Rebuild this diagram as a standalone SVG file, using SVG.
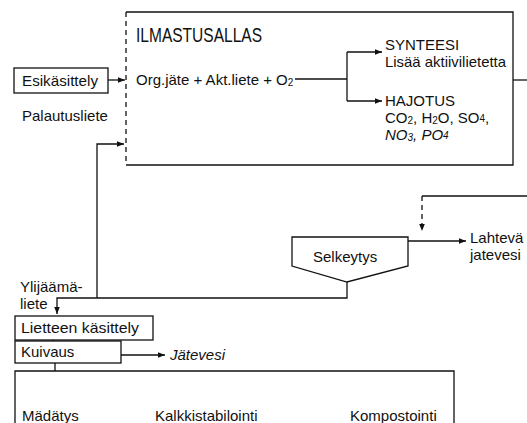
<svg xmlns="http://www.w3.org/2000/svg" width="527" height="423" viewBox="0 0 527 423">
<style>
text{font-family:"Liberation Sans",Arial,sans-serif;fill:#111;font-size:15px}
.t{font-size:21px}
.s{font-size:10px}
.box{fill:none;stroke:#111;stroke-width:1.3}
.ln{fill:none;stroke:#111;stroke-width:1.3}
.ds{fill:none;stroke:#111;stroke-width:1.3;stroke-dasharray:5 4}
</style>
<defs>
<marker id="ah" viewBox="0 0 10 10" refX="10" refY="5" markerWidth="7" markerHeight="7" orient="auto" markerUnits="userSpaceOnUse"><path d="M0,1 L10,5 L0,9 z" fill="#111"/></marker>
</defs>
<rect width="527" height="423" fill="#fff"/>
<g id="ilmastusallas">
<path class="box" d="M126,165 L513,165 L513,12 L126,12"/>
<path class="ds" d="M126,12 L126,165"/>
<text class="t" x="136" y="42" textLength="126" lengthAdjust="spacingAndGlyphs">ILMASTUSALLAS</text>
<text x="136" y="85" font-size="14">Org.jäte + Akt.liete + O<tspan class="s" dy="1">2</tspan></text>
<text x="385" y="50">SYNTEESI</text>
<text x="385" y="67" textLength="121" lengthAdjust="spacingAndGlyphs">Lisää aktiivilietetta</text>
<text x="385" y="106">HAJOTUS</text>
<text x="385" y="123">CO<tspan class="s" dy="1">2</tspan><tspan dy="-1">, H</tspan><tspan class="s" dy="1">2</tspan><tspan dy="-1">O, SO</tspan><tspan class="s" dy="-1">4</tspan><tspan dy="1">,</tspan></text>
<text x="385" y="140" font-style="italic">NO<tspan class="s" dy="1">3</tspan><tspan dy="-1">, PO</tspan><tspan class="s" dy="-1">4</tspan></text>
</g>
<g id="esikasittely">
<rect class="box" x="14" y="68" width="94" height="25"/>
<text x="22" y="86" textLength="76" lengthAdjust="spacingAndGlyphs">Esikäsittely</text>
</g>
<g id="selkeytys">
<path class="box" d="M292,237 L408,237 L408,266 L347,282 L292,266 Z"/>
<text x="313" y="262">Selkeytys</text>
</g>
<g id="lietteen">
<rect class="box" x="15" y="316" width="138" height="24"/>
<text x="21" y="333" textLength="118" lengthAdjust="spacingAndGlyphs">Lietteen käsittely</text>
</g>
<g id="kuivaus">
<rect class="box" x="15" y="341" width="106" height="22"/>
<text x="21" y="357">Kuivaus</text>
</g>
<g id="kasittelytavat">
<path class="box" d="M15,423 L15,371 L454,371 L454,423"/>
<text x="22" y="421">Mädätys</text>
<text x="155" y="421">Kalkkistabilointi</text>
<text x="350" y="421">Kompostointi</text>
</g>
<g id="labels">
<text x="22" y="121">Palautusliete</text>
<text x="20" y="292">Ylijäämä-</text>
<text x="20" y="309">liete</text>
<text x="470" y="243">Lahtevä</text>
<text x="470" y="260">jatevesi</text>
<text x="170" y="360" font-style="italic">Jätevesi</text>
</g>
<g id="connectors">
<path class="ln" d="M108,80 L125,80" marker-end="url(#ah)"/>
<path class="ln" d="M295,79 L347,79"/>
<path class="ln" d="M347,52 L347,101"/>
<path class="ln" d="M347,52 L382,52" marker-end="url(#ah)"/>
<path class="ln" d="M347,101 L382,101" marker-end="url(#ah)"/>
<path class="ln" d="M513,80 L527,80"/>
<path class="ln" d="M97,298 L97,144 L124,144" marker-end="url(#ah)"/>
<path class="ln" d="M347,282 L347,298 L57,298 L57,314" marker-end="url(#ah)"/>
<path class="ln" d="M408,241 L466,241" marker-end="url(#ah)"/>
<path class="ln" d="M527,196 L422,196"/>
<path class="ds" d="M422,196 L422,231" marker-end="url(#ah)"/>
<path class="ln" d="M53,340 L53,341"/>
<path class="ln" d="M55,363 L55,371"/>
<path class="ln" d="M121,355 L165,355" marker-end="url(#ah)"/>
</g>
</svg>
